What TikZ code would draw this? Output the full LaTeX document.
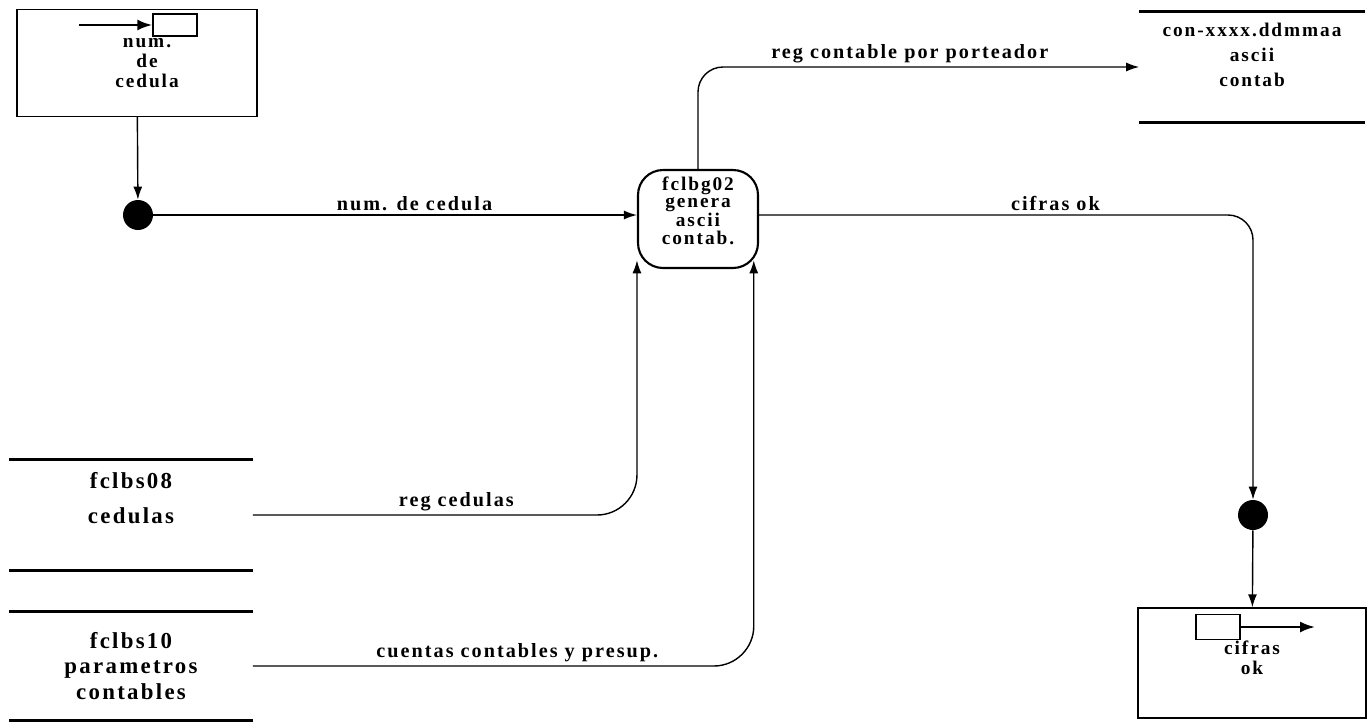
\documentclass[tikz,border=0pt]{standalone}
\usepackage{fontspec}
\setmainfont{Liberation Serif}
\newfontfamily\dfdfont[LetterSpace=10]{Liberation Serif}
\usetikzlibrary{arrows.meta, positioning, calc}

\begin{document}
\begin{tikzpicture}[
    x=0.02cm, y=-0.02cm,
    font=\dfdfont\fontsize{11}{11.3}\selectfont\bfseries,
    entity/.style={rectangle, draw, thick, minimum width=4.8cm, minimum height=2.14cm, align=center},
    flagbox/.style={rectangle, draw, thick, fill=white, minimum width=0.88cm, minimum height=0.44cm},
    process/.style={rectangle, draw, very thick, rounded corners=0.5cm, minimum width=2.4cm, minimum height=1.96cm, inner sep=1pt, align=center},
    datastore/.style={rectangle, minimum height=2.2cm, inner sep=1pt, align=center},
    bigstore/.style={datastore, minimum width=4.86cm, font=\dfdfont\fontsize{13}{14.7}\selectfont\bfseries},
    storeline/.style={line width=1.4pt},
    junction/.style={circle, fill=black, minimum size=0.6cm, inner sep=0pt},
    arrow/.style={-{Latex[length=2.6mm, width=1.8mm]}, thick},
    flagarrow/.style={-{Latex[length=3mm, width=2.2mm]}, line width=1.3pt},
    flow/.style={font=\dfdfont\fontsize{11.5}{12}\selectfont\bfseries, above, inner sep=2pt}
]
\useasboundingbox (0,0) rectangle (1368,724);

% Nodes
\node[entity] (cedulaent) at (137,63) {\hspace*{0.4cm}num.\\\hspace*{0.4cm}de\\\hspace*{0.4cm}cedula};
\node[flagbox] (cedulaflag) at (175,25) {};
\coordinate (cedulasrc) at (79,25);
\node[junction] (dotin) at (138,215) {};
\node[process, font=\dfdfont\fontsize{11}{9.8}\selectfont\bfseries] (proc) at (698,219) {fclbg02\\genera\\ascii\\contab.\\};
\node[datastore, minimum width=4.5cm, font=\dfdfont\fontsize{11}{14.2}\selectfont\bfseries] (asciifile) at (1252,67) {con-xxxx.ddmmaa\\ascii\\contab\\};
\node[junction] (dotout) at (1253,515) {};
\node[entity, minimum width=4.56cm, minimum height=2.2cm] (cifrasent) at (1252,663) {cifras\\ok\\[-5.6pt]};
\node[flagbox, minimum height=0.5cm] (cifrasflag) at (1218,627) {};
\coordinate (cifrastip) at (1315,627);
\node[bigstore, font=\dfdfont\fontsize{13}{19.8}\selectfont\bfseries] (cedulas) at (131,515) {fclbs08\\cedulas\\};
\node[bigstore, minimum height=2.16cm] (param) at (131,666) {fclbs10\\parametros\\contables};

% Store lines
\foreach \s in {asciifile, cedulas, param}
  \draw[storeline] (\s.north west) -- (\s.north east) (\s.south west) -- (\s.south east);

% Arrows
\draw[flagarrow] (cedulasrc) -- (cedulaflag.west);
\draw[flagarrow] (cifrasflag.east) -- (cifrastip);
\draw[arrow] (cedulaent) -- (dotin);
\draw[arrow] (dotin) -- (dotin -| proc.west) node[flow, pos=0.54] {num. de cedula};
\draw[arrow, rounded corners=0.5cm] (proc.north) |- (asciifile.west) node[flow, pos=0.74] {reg contable por porteador};
\draw[arrow, rounded corners=0.5cm] (dotin -| proc.east) -| (dotout) node[flow, pos=0.3] {cifras ok};
\draw[arrow] (dotout) -- (cifrasent);
\draw[arrow, rounded corners=0.8cm] (cedulas.east) -| ([yshift=5pt]proc.south west) node[flow, pos=0.265] {reg cedulas};
\draw[arrow, rounded corners=0.8cm] (param.east) -| ([xshift=-3pt, yshift=5pt]proc.south east) node[flow, pos=0.264] {cuentas contables y presup.};

\end{tikzpicture}
\end{document}
